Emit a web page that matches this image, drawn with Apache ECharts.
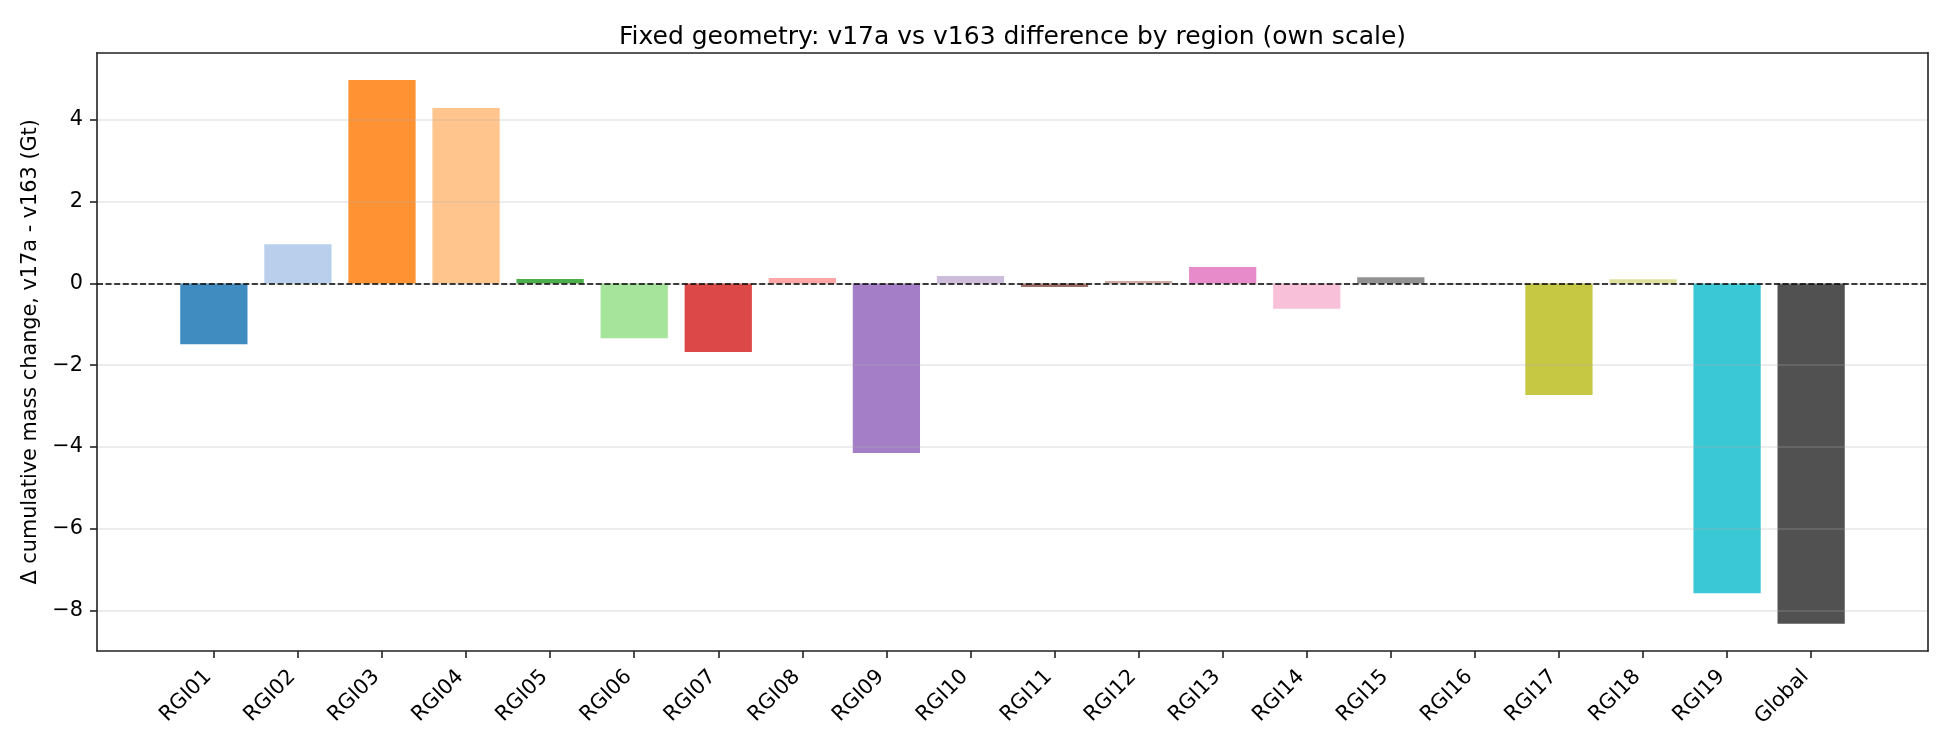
<!DOCTYPE html>
<html>
<head>
<meta charset="utf-8">
<script src="https://cdn.jsdelivr.net/npm/echarts@6/dist/echarts.min.js"></script>
<style>
  html, body { margin: 0; padding: 0; background: #fff; }
  #chart { width: 1950px; height: 750px; }
</style>
</head>
<body>
<div id="chart"></div>
<script>
const regions = ["RGI01", "RGI02", "RGI03", "RGI04", "RGI05", "RGI06", "RGI07", "RGI08", "RGI09", "RGI10",
    "RGI11", "RGI12", "RGI13", "RGI14", "RGI15", "RGI16", "RGI17", "RGI18", "RGI19", "Global"];
const diffs = [-1.49, 0.96, 4.98, 4.29, 0.11, -1.34, -1.68, 0.13, -4.15, 0.18,
    -0.09, 0.06, 0.40, -0.62, 0.15, -0.02, -2.73, 0.10, -7.58, -8.33];
const barColors = ["#1f77b4", "#aec7e8", "#ff7f0e", "#ffbb78", "#2ca02c", "#98df8a", "#d62728", "#ff9896",
    "#9467bd", "#c5b0d5", "#8c564b", "#c49c94", "#e377c2", "#f7b6d2", "#7f7f7f", "#c7c7c7",
    "#bcbd22", "#dbdb8d", "#17becf", "#333333"];
const yTicks = [-8, -6, -4, -2, 0, 2, 4];

// matplotlib-like autoscale: 5% margin on the data range
const dMin = Math.min(...diffs), dMax = Math.max(...diffs);
const pad = (dMax - dMin) * 0.05;
const yMin = dMin - pad, yMax = dMax + pad;

// x: bars of width 0.8 at 0..n-1, 5% margins -> category band placed inside full frame
const n = regions.length;
const xLo = -0.4 - (n - 1 + 0.8) * 0.05, xHi = n - 1 + 0.4 + (n - 1 + 0.8) * 0.05;
const frameLeft = 97, frameRight = 22, frameTop = 52.7, frameBottom = 99;
const frameW = 1950 - frameLeft - frameRight;
const unit = frameW / (xHi - xLo);
const bandLeft = frameLeft + (-0.5 - xLo) * unit;
const bandW = n * unit;

const FONT = "DejaVu Sans";
const minus = v => String(v).replace('-', '\u2212');
const frameLine = { show: true, onZero: false, lineStyle: { color: '#222', width: 1.6 } };

const chart = echarts.init(document.getElementById('chart'));

const option = {
    backgroundColor: '#ffffff',
    animation: false,
    title: {
        text: 'Fixed geometry: v17a vs v163 difference by region (own scale)',
        left: frameLeft + frameW / 2 - 5,
        textAlign: 'center',
        top: 20,
        textStyle: { fontFamily: FONT, fontSize: 25, fontWeight: 'normal', color: '#000' }
    },
    grid: [
        { left: frameLeft, right: frameRight, top: frameTop, bottom: frameBottom },
        { left: bandLeft, width: bandW, top: frameTop, bottom: frameBottom }
    ],
    xAxis: [
        {
            gridIndex: 0, type: 'value', min: 0, max: 1, position: 'bottom', z: 4,
            axisLine: frameLine,
            axisTick: { show: false }, axisLabel: { show: false }, splitLine: { show: false }
        },
        {
            gridIndex: 0, type: 'value', min: 0, max: 1, position: 'top', z: 4,
            axisLine: frameLine,
            axisTick: { show: false }, axisLabel: { show: false }, splitLine: { show: false }
        },
        {
            gridIndex: 1, type: 'category', data: regions, position: 'bottom',
            axisLine: { show: false, onZero: false },
            axisTick: { show: true, alignWithLabel: true, length: 7, lineStyle: { color: '#222', width: 1.6 } },
            axisLabel: {
                rotate: 45, interval: 0, margin: 17, padding: [0, 8, 0, 0],
                fontFamily: FONT, fontSize: 20.8, color: '#000'
            },
            splitLine: { show: false }
        }
    ],
    yAxis: [
        {
            gridIndex: 0, type: 'value', min: yMin, max: yMax, position: 'left', z: 3,
            name: '\u0394 cumulative mass change, v17a - v163 (Gt)',
            nameLocation: 'middle', nameGap: 54,
            nameTextStyle: { fontFamily: FONT, fontSize: 20.8, color: '#000' },
            axisLine: frameLine,
            axisTick: { show: true, length: 7, customValues: yTicks, lineStyle: { color: '#222', width: 1.6 } },
            axisLabel: {
                customValues: yTicks, margin: 14, formatter: minus,
                fontFamily: FONT, fontSize: 20.8, color: '#000'
            },
            splitLine: { show: true, lineStyle: { color: 'rgba(176,176,176,0.3)', width: 1.6 } }
        },
        {
            gridIndex: 0, type: 'value', min: yMin, max: yMax, position: 'right', z: 4,
            axisLine: frameLine,
            axisTick: { show: false }, axisLabel: { show: false }, splitLine: { show: false }
        },
        {
            gridIndex: 1, type: 'value', min: yMin, max: yMax, show: false,
            axisLine: { onZero: false },
            splitLine: { show: false }
        }
    ],
    series: [
        {
            type: 'bar',
            xAxisIndex: 2,
            yAxisIndex: 2,
            barWidth: '80%',
            z: 2,
            data: diffs.map((v, i) => ({
                value: v,
                itemStyle: { color: barColors[i], opacity: 0.85 }
            }))
        },
        {
            type: 'line',
            xAxisIndex: 0,
            yAxisIndex: 0,
            data: [],
            z: 5,
            markLine: {
                silent: true,
                symbol: 'none',
                label: { show: false },
                lineStyle: { color: '#000', width: 1.6, type: [6, 2.6] },
                data: [{ yAxis: 0 }]
            }
        }
    ]
};

chart.setOption(option);
</script>
</body>
</html>
